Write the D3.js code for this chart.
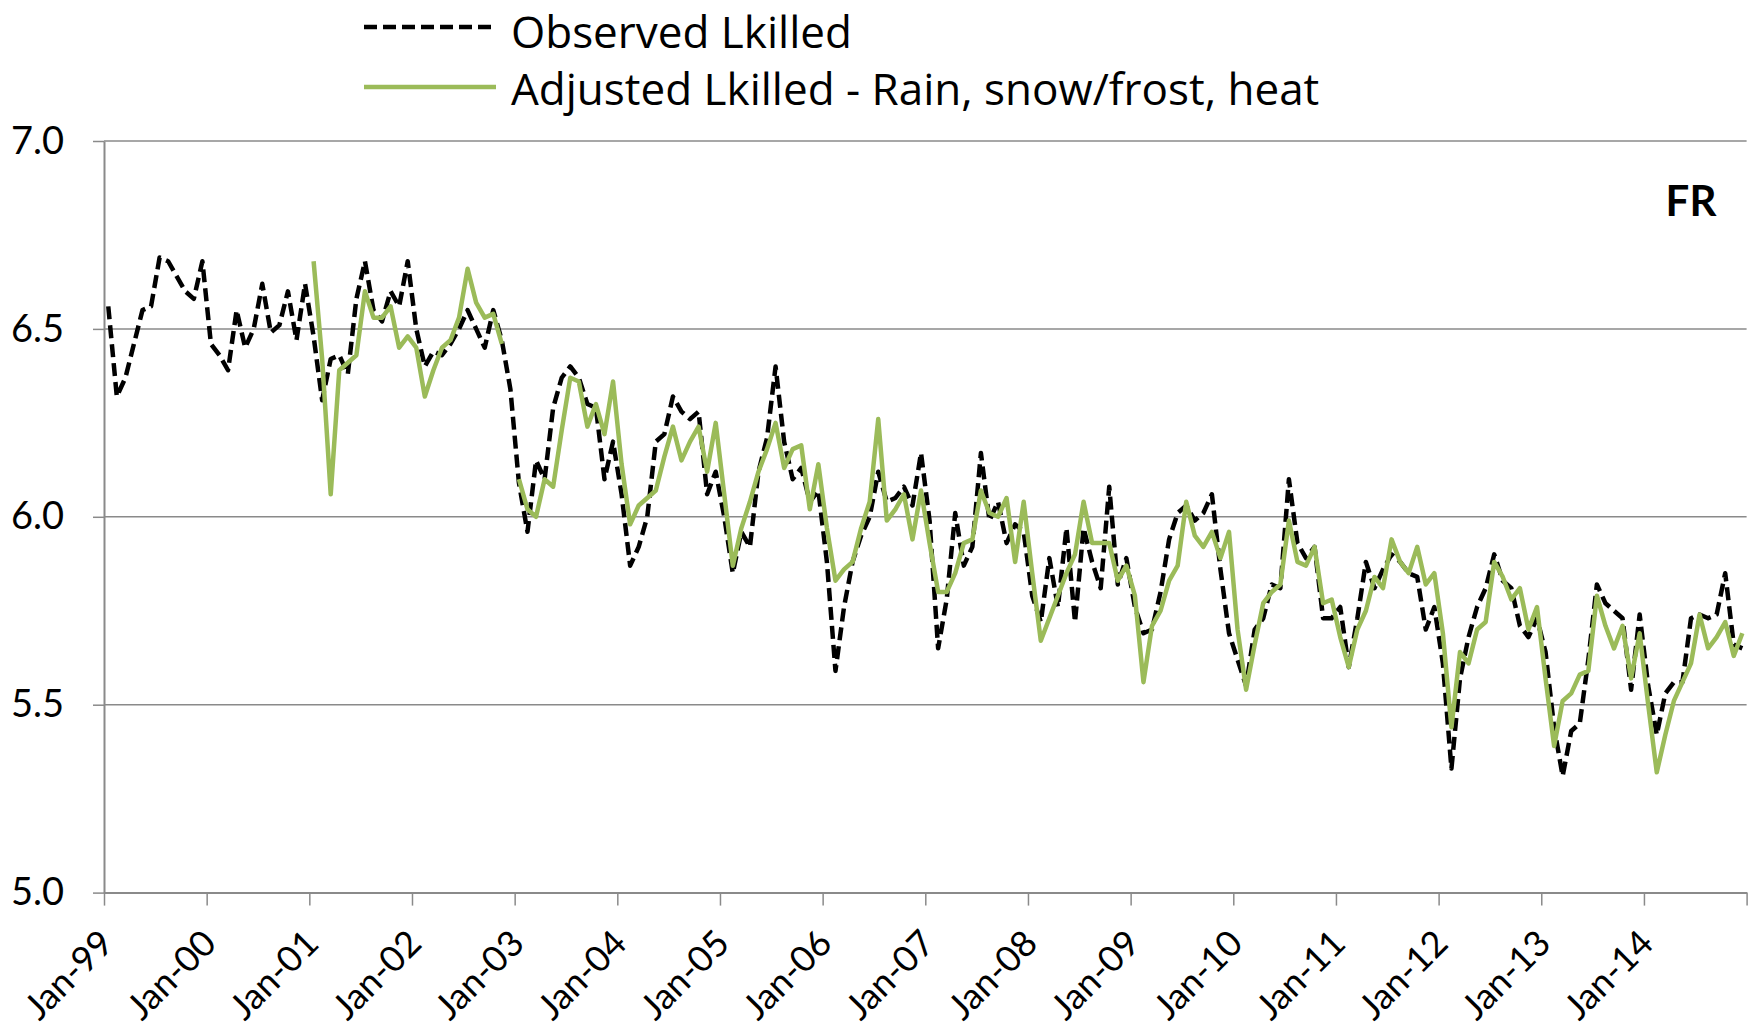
<!DOCTYPE html>
<html>
<head>
<meta charset="utf-8">
<script src="https://cdn.jsdelivr.net/npm/d3@7"></script>
<style>
  html, body { margin: 0; padding: 0; background: #ffffff; }
  svg { display: block; font-family: Lato, "Open Sans", sans-serif; }
</style>
</head>
<body>
<svg id="chart" width="1754" height="1029"></svg>
<script>
// Monthly series, Jan-1999 .. Dec-2014 (one value per month, 12 per row)
const tickLabels = ["Jan-99","Jan-00","Jan-01","Jan-02","Jan-03","Jan-04","Jan-05","Jan-06",
                    "Jan-07","Jan-08","Jan-09","Jan-10","Jan-11","Jan-12","Jan-13","Jan-14"];

const observed = [
  6.56, 6.32, 6.37, 6.46, 6.55, 6.56, 6.69, 6.68, 6.64, 6.60, 6.58, 6.68,  // 1999
  6.46, 6.43, 6.39, 6.55, 6.45, 6.50, 6.62, 6.49, 6.51, 6.60, 6.47, 6.62,  // 2000
  6.48, 6.31, 6.42, 6.43, 6.38, 6.58, 6.68, 6.55, 6.52, 6.60, 6.56, 6.68,  // 2001
  6.50, 6.40, 6.44, 6.43, 6.46, 6.50, 6.55, 6.50, 6.45, 6.55, 6.47, 6.34,  // 2002
  6.09, 5.96, 6.15, 6.10, 6.29, 6.37, 6.40, 6.37, 6.30, 6.29, 6.10, 6.20,  // 2003
  6.06, 5.87, 5.92, 6.00, 6.20, 6.22, 6.32, 6.28, 6.26, 6.28, 6.06, 6.12,  // 2004
  6.00, 5.85, 5.96, 5.92, 6.12, 6.21, 6.40, 6.20, 6.10, 6.13, 6.04, 6.07,  // 2005
  5.88, 5.59, 5.76, 5.88, 5.95, 6.00, 6.12, 6.04, 6.05, 6.08, 6.03, 6.17,  // 2006
  5.99, 5.65, 5.78, 6.01, 5.87, 5.92, 6.17, 5.99, 6.04, 5.93, 5.98, 5.96,  // 2007
  5.79, 5.72, 5.89, 5.76, 5.97, 5.72, 5.97, 5.88, 5.81, 6.08, 5.82, 5.89,  // 2008
  5.76, 5.69, 5.70, 5.80, 5.94, 6.01, 6.03, 5.99, 6.01, 6.06, 5.86, 5.69,  // 2009
  5.62, 5.55, 5.70, 5.73, 5.82, 5.81, 6.10, 5.93, 5.89, 5.92, 5.73, 5.73,  // 2010
  5.76, 5.60, 5.73, 5.88, 5.81, 5.86, 5.90, 5.88, 5.85, 5.84, 5.70, 5.76,  // 2011
  5.61, 5.33, 5.57, 5.68, 5.76, 5.81, 5.90, 5.83, 5.81, 5.71, 5.68, 5.73,  // 2012
  5.64, 5.44, 5.31, 5.43, 5.45, 5.62, 5.82, 5.77, 5.75, 5.73, 5.54, 5.74,  // 2013
  5.55, 5.42, 5.53, 5.56, 5.56, 5.73, 5.74, 5.73, 5.74, 5.85, 5.66, 5.65   // 2014
];

const adjusted = [
  null, null, null, null, null, null, null, null, null, null, null, null,  // 1999
  null, null, null, null, null, null, null, null, null, null, null, null,  // 2000
  6.68, 6.42, 6.06, 6.39, 6.41, 6.43, 6.60, 6.53, 6.53, 6.56, 6.45, 6.48,  // 2001
  6.45, 6.32, 6.39, 6.45, 6.47, 6.53, 6.66, 6.57, 6.53, 6.54, 6.46, null,  // 2002
  6.10, 6.02, 6.00, 6.10, 6.08, 6.23, 6.37, 6.36, 6.24, 6.30, 6.22, 6.36,  // 2003
  6.14, 5.98, 6.03, 6.05, 6.07, 6.16, 6.24, 6.15, 6.20, 6.24, 6.12, 6.25,  // 2004
  6.06, 5.87, 5.97, 6.04, 6.12, 6.18, 6.25, 6.13, 6.18, 6.19, 6.02, 6.14,  // 2005
  5.97, 5.83, 5.86, 5.88, 5.97, 6.04, 6.26, 5.99, 6.02, 6.06, 5.94, 6.07,  // 2006
  5.93, 5.80, 5.80, 5.85, 5.93, 5.94, 6.07, 6.01, 6.00, 6.05, 5.88, 6.04,  // 2007
  5.85, 5.67, 5.73, 5.79, 5.85, 5.90, 6.04, 5.93, 5.93, 5.93, 5.83, 5.87,  // 2008
  5.79, 5.56, 5.71, 5.75, 5.83, 5.87, 6.04, 5.95, 5.92, 5.96, 5.89, 5.96,  // 2009
  5.70, 5.54, 5.66, 5.77, 5.80, 5.82, 5.99, 5.88, 5.87, 5.92, 5.77, 5.78,  // 2010
  5.68, 5.60, 5.70, 5.75, 5.84, 5.81, 5.94, 5.88, 5.85, 5.92, 5.82, 5.85,  // 2011
  5.69, 5.44, 5.64, 5.61, 5.70, 5.72, 5.88, 5.84, 5.78, 5.81, 5.70, 5.76,  // 2012
  5.57, 5.39, 5.51, 5.53, 5.58, 5.59, 5.79, 5.71, 5.65, 5.71, 5.57, 5.69,  // 2013
  5.50, 5.32, 5.42, 5.51, 5.56, 5.61, 5.74, 5.65, 5.68, 5.72, 5.63, 5.69   // 2014
];

const seriesNames = ["Observed Lkilled", "Adjusted Lkilled - Rain, snow/frost, heat"];
const yTicks = [5.0, 5.5, 6.0, 6.5, 7.0];
const panelLabel = "FR";

// ---- layout ----
const plot = { left: 104, right: 1746.6, top: 141, bottom: 892.6 };
const gridColor = "#8a8a8a";
const green = "#9bbb59";
const dash = "13,6";
const lineWidth = 4.5;

const svg = d3.select("#chart");

const x = d3.scaleLinear().domain([0, observed.length]).range([plot.left, plot.right]);
const y = d3.scaleLinear().domain([5, 7]).range([plot.bottom, plot.top]);

// horizontal gridlines
svg.append("g")
  .selectAll("line")
  .data(yTicks.filter(v => v > 5))
  .join("line")
  .attr("x1", plot.left).attr("x2", plot.right)
  .attr("y1", d => y(d)).attr("y2", d => y(d))
  .attr("stroke", gridColor).attr("stroke-width", 1.5);

// y axis
const yAxis = svg.append("g")
  .attr("transform", `translate(${plot.left},0)`)
  .call(d3.axisLeft(y).tickValues(yTicks).tickFormat(d3.format(".1f"))
        .tickSizeInner(11).tickSizeOuter(0).tickPadding(29));
yAxis.select(".domain").attr("stroke", gridColor).attr("stroke-width", 2);
yAxis.selectAll(".tick line").attr("stroke", gridColor).attr("stroke-width", 1.5);
yAxis.selectAll(".tick text")
  .attr("font-size", 38).attr("fill", "#000").attr("font-family", "Lato, 'Open Sans', sans-serif");

// x axis (yearly ticks on month boundaries)
const yearStarts = d3.range(0, observed.length + 1, 12);
const xAxis = svg.append("g")
  .attr("transform", `translate(0,${plot.bottom})`)
  .call(d3.axisBottom(x).tickValues(yearStarts)
        .tickFormat((d, i) => tickLabels[i] || "")
        .tickSizeInner(13).tickSizeOuter(0));
xAxis.select(".domain").attr("stroke", gridColor).attr("stroke-width", 2);
xAxis.selectAll(".tick line").attr("stroke", gridColor).attr("stroke-width", 1.5);
xAxis.selectAll(".tick text")
  .attr("font-size", 36).attr("fill", "#000").attr("font-family", "Lato, 'Open Sans', sans-serif")
  .attr("text-anchor", "end")
  .attr("x", 0).attr("y", 0).attr("dy", 0)
  .attr("transform", "translate(11,53) rotate(-45)");

// series lines
const line = d3.line()
  .defined(d => d != null)
  .x((d, i) => x(i + 0.5))
  .y(d => y(d));

svg.append("path")
  .datum(observed)
  .attr("d", line)
  .attr("fill", "none")
  .attr("stroke", "#000")
  .attr("stroke-width", lineWidth)
  .attr("stroke-dasharray", dash)
  .attr("stroke-linejoin", "round");

svg.append("path")
  .datum(adjusted)
  .attr("d", line)
  .attr("fill", "none")
  .attr("stroke", green)
  .attr("stroke-width", lineWidth)
  .attr("stroke-linejoin", "round");

// legend
const legend = svg.append("g").attr("font-family", "'Open Sans', Lato, sans-serif");
const legendItems = [
  { name: seriesNames[0], color: "#000", dash: dash, y: 27, baseline: 48 },
  { name: seriesNames[1], color: green, dash: null, y: 87, baseline: 105 }
];
legendItems.forEach(it => {
  legend.append("line")
    .attr("x1", 364).attr("x2", 496)
    .attr("y1", it.y).attr("y2", it.y)
    .attr("stroke", it.color).attr("stroke-width", lineWidth)
    .attr("stroke-dasharray", it.dash);
  legend.append("text")
    .attr("x", 511).attr("y", it.baseline)
    .attr("font-size", 44)
    .attr("fill", "#000")
    .text(it.name);
});

// panel label
svg.append("text")
  .attr("x", 1691).attr("y", 201)
  .attr("dy", "0.36em")
  .attr("text-anchor", "middle")
  .attr("font-size", 42)
  .attr("font-weight", "bold")
  .attr("font-family", "Lato, 'Open Sans', sans-serif")
  .text(panelLabel);
</script>
</body>
</html>
